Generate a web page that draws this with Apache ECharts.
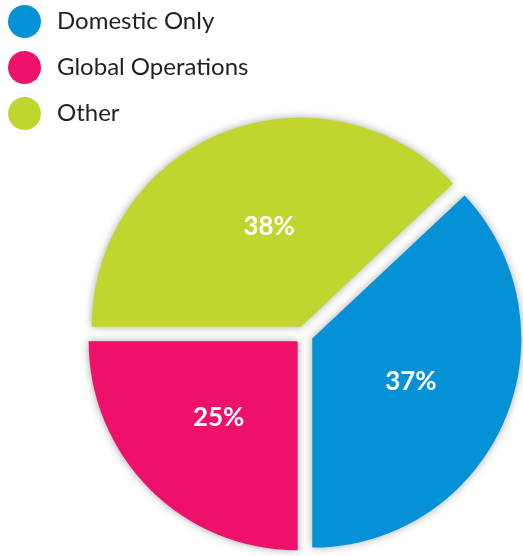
<!DOCTYPE html>
<html>
<head>
<meta charset="utf-8">
<script src="https://cdn.jsdelivr.net/npm/echarts@6/dist/echarts.min.js"></script>
<style>
html,body{margin:0;padding:0;background:#fff;}
#chart{width:523px;height:556px;}
</style>
</head>
<body>
<div id="chart"></div>
<script>
var categories = ['Domestic Only', 'Global Operations', 'Other'];
var values = [37, 25, 38];
var colors = ['#0591d5', '#ee106b', '#c0d62f'];
var labelPads = [[0, 0, 6, 0], [2, 6, 0, 0], [4, 0, 0, 16]];

var chart = echarts.init(document.getElementById('chart'), null, {renderer: 'canvas'});
var data = categories.map(function (name, i) {
  return {
    name: name,
    value: values[i],
    selected: true,
    itemStyle: {color: colors[i]},
    select: {itemStyle: {color: colors[i]}},
    label: {padding: labelPads[i]}
  };
});
chart.setOption({
  animation: false,
  backgroundColor: '#ffffff',
  legend: {
    orient: 'vertical',
    left: 8,
    top: 5,
    padding: 0,
    icon: 'circle',
    itemWidth: 33,
    itemHeight: 33,
    itemGap: 13,
    selectedMode: false,
    data: categories,
    textStyle: {
      fontFamily: 'Lato',
      fontSize: 24,
      color: '#231f20',
      padding: [0, 0, 0, 11]
    }
  },
  series: [{
    type: 'pie',
    center: [304, 335],
    radius: 209,
    startAngle: 43.2,
    clockwise: true,
    selectedMode: 'multiple',
    selectedOffset: 9,
    avoidLabelOverlap: false,
    emphasis: {disabled: true},
    itemStyle: {
      shadowBlur: 8,
      shadowColor: 'rgba(0,0,0,0.35)'
    },
    label: {
      show: true,
      position: 'inside',
      formatter: '{c}%',
      color: '#ffffff',
      fontFamily: 'Lato',
      fontWeight: 'bold',
      fontSize: 26
    },
    labelLine: {show: false},
    data: data
  }]
});
</script>
</body>
</html>
